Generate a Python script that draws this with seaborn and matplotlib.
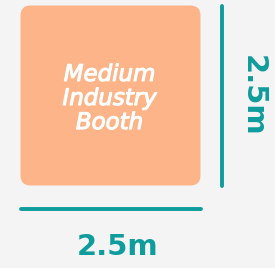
import matplotlib
matplotlib.use("Agg")
import matplotlib.pyplot as plt
import matplotlib.patheffects as pe
import seaborn as sns
from matplotlib.patches import FancyBboxPatch

# booth data
booth_label = ["Medium", "Industry", "Booth"]
booth_size_m = [2.5, 2.5]          # width, depth
dim_labels = ["2.5m", "2.5m"]      # bottom, right

sns.set_theme(style="white")
plt.rcParams["font.family"] = ["DejaVu Sans"]

BG = "#f4f4f4"
ORANGE = "#fdb488"
TEAL = "#0f9c9c"

scale = 72  # pixels per metre
x0, y0 = 20.5, 5.5
w = booth_size_m[0] * scale
h = booth_size_m[1] * scale

fig = plt.figure(figsize=(2.75, 2.68), dpi=100, facecolor=BG)
ax = fig.add_axes([0, 0, 1, 1])
ax.set_facecolor(BG)

box = FancyBboxPatch((x0 + 10, y0 + 10), w - 20, h - 20,
                     boxstyle="round,pad=10", fc=ORANGE, ec="none")
ax.add_patch(box)

ax.text(x0 + w / 2 - 1, y0 + h / 2 + 3, "\n".join(booth_label), color="white",
        fontsize=16.5, fontstyle="italic", fontweight="normal",
        ha="center", va="center", linespacing=1.06,
        path_effects=[pe.withStroke(linewidth=0.8, foreground="white")])

# dimension lines
sns.lineplot(x=[221.5, 221.5], y=[y0, y0 + h], color=TEAL, linewidth=2.8,
             estimator=None, sort=False, ax=ax)
sns.lineplot(x=[x0, x0 + w], y=[208.5, 208.5], color=TEAL, linewidth=2.8,
             estimator=None, sort=False, ax=ax)
ax.set_xlim(0, 275)
ax.set_ylim(268, 0)
ax.axis("off")

ax.text(117.5, 247, dim_labels[0], color=TEAL, fontsize=21,
        fontweight="bold", ha="center", va="center")
ax.text(253, y0 + h / 2, dim_labels[1], color=TEAL, fontsize=21,
        fontweight="bold", ha="center", va="center", rotation=-90)

fig.savefig("out.png", dpi=100, facecolor=BG)
